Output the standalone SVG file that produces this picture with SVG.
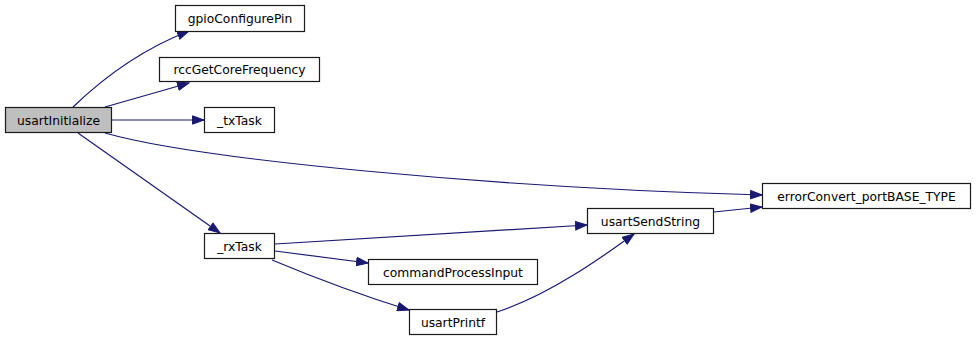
<svg xmlns="http://www.w3.org/2000/svg" width="976" height="341" viewBox="0 0 976 341">
  <style>
    .node rect { fill: #ffffff; stroke: #1a1a1a; stroke-width: 1.2; }
    .node.root rect { fill: #bfbfbf; stroke: #1a1a1a; }
    .node text { font-family: "DejaVu Sans", "Liberation Sans", sans-serif; font-size: 12.3px; fill: #000000; text-anchor: middle; }
    .edge { fill: none; stroke: #191970; stroke-width: 1.2; marker-end: url(#arrow); }
  </style>
  <defs>
    <!-- filled call arrowhead, tip at the end of each connector -->
    <marker id="arrow" markerUnits="userSpaceOnUse" markerWidth="13" markerHeight="10" refX="12" refY="5" orient="auto">
      <path d="M0.5,0.8 L12,5 L0.5,9.2 Z" fill="#191970" stroke="#191970" stroke-width="1"/>
    </marker>
  </defs>
  <rect width="976" height="341" fill="#ffffff"/>

  <g id="connectors">
    <path class="edge" d="M73,107 C100,81 140,50 189,31"/>
    <path class="edge" d="M105,107 L189,83"/>
    <path class="edge" d="M112,120 L204,120"/>
    <path class="edge" d="M105,133 C200,160 500,188 762,195"/>
    <path class="edge" d="M78,133 L220,233"/>
    <path class="edge" d="M275,244 L587,225"/>
    <path class="edge" d="M275,251 L368,263"/>
    <path class="edge" d="M272,260 C320,280 370,298 409,310"/>
    <path class="edge" d="M497,312 C550,295 605,255 634,234"/>
    <path class="edge" d="M714,212 L762,207"/>
  </g>

  <g id="usartInitialize" class="node root">
    <rect x="5.5" y="107.5" width="106" height="25"/>
    <text x="58.5" y="124.5">usartInitialize</text>
  </g>
  <g id="gpioConfigurePin" class="node">
    <rect x="175.5" y="5.5" width="129" height="26"/>
    <text x="240" y="23">gpioConfigurePin</text>
  </g>
  <g id="rccGetCoreFrequency" class="node">
    <rect x="159.5" y="57.5" width="160" height="24"/>
    <text x="239.5" y="74">rccGetCoreFrequency</text>
  </g>
  <g id="txTask" class="node">
    <rect x="204.5" y="107.5" width="70" height="25"/>
    <text x="239.5" y="124.5">_txTask</text>
  </g>
  <g id="rxTask" class="node">
    <rect x="204.5" y="233.5" width="70" height="25"/>
    <text x="239.5" y="250.5">_rxTask</text>
  </g>
  <g id="errorConvert_portBASE_TYPE" class="node">
    <rect x="762.5" y="183.5" width="208" height="25"/>
    <text x="866.5" y="200.5">errorConvert_portBASE_TYPE</text>
  </g>
  <g id="usartSendString" class="node">
    <rect x="587.5" y="208.5" width="126" height="25"/>
    <text x="650.5" y="225.5">usartSendString</text>
  </g>
  <g id="commandProcessInput" class="node">
    <rect x="368.5" y="259.5" width="169" height="25"/>
    <text x="453" y="276.5">commandProcessInput</text>
  </g>
  <g id="usartPrintf" class="node">
    <rect x="409.5" y="309.5" width="87" height="25"/>
    <text x="453" y="326.5">usartPrintf</text>
  </g>
</svg>
